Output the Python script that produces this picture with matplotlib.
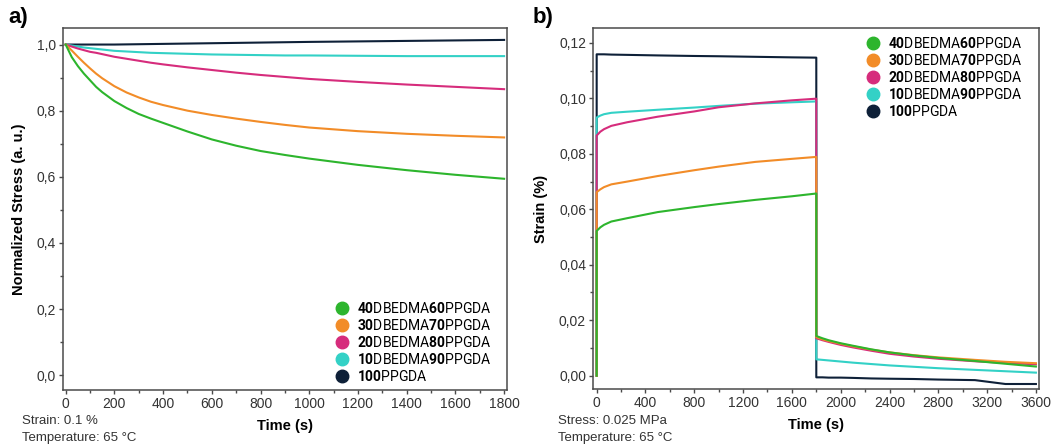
import matplotlib
matplotlib.use('Agg')
import matplotlib.pyplot as plt
from matplotlib.ticker import MultipleLocator, FuncFormatter

plt.rcParams['font.family'] = ['Liberation Sans', 'DejaVu Sans']
plt.rcParams['mathtext.fontset'] = 'custom'
plt.rcParams['mathtext.rm'] = 'Roboto'
plt.rcParams['mathtext.bf'] = 'Roboto:bold'

labels = ['$\\mathbf{40}$DBEDMA$\\mathbf{60}$PPGDA',
          '$\\mathbf{30}$DBEDMA$\\mathbf{70}$PPGDA',
          '$\\mathbf{20}$DBEDMA$\\mathbf{80}$PPGDA',
          '$\\mathbf{10}$DBEDMA$\\mathbf{90}$PPGDA',
          '$\\mathbf{100}$PPGDA']
colors = ['#2db52d', '#f28c28', '#d62c7c', '#33d1c6', '#0e2038']

# a) stress relaxation, normalized stress
t_relax = [0, 25, 50, 75, 100, 125, 150, 200, 250, 300, 350, 400, 500, 600, 700,
           800, 900, 1000, 1200, 1400, 1600, 1800]
relax_40 = [1.0, 0.962, 0.935, 0.912, 0.892, 0.872, 0.856, 0.829, 0.808, 0.790, 0.776,
            0.763, 0.737, 0.713, 0.694, 0.678, 0.666, 0.655, 0.636, 0.620, 0.606, 0.594]
relax_30 = [1.0, 0.982, 0.963, 0.945, 0.928, 0.912, 0.898, 0.874, 0.855, 0.840, 0.827,
            0.817, 0.800, 0.787, 0.776, 0.766, 0.757, 0.749, 0.738, 0.730, 0.724, 0.719]
relax_20 = [1.0, 0.994, 0.988, 0.983, 0.978, 0.975, 0.971, 0.963, 0.957, 0.951, 0.945,
            0.940, 0.931, 0.923, 0.915, 0.908, 0.902, 0.896, 0.887, 0.879, 0.872, 0.865]
relax_10 = [1.0, 0.997, 0.994, 0.991, 0.989, 0.987, 0.985, 0.981, 0.979, 0.977, 0.975,
            0.974, 0.972, 0.970, 0.969, 0.968, 0.967, 0.967, 0.966, 0.965, 0.965, 0.965]
relax_0 = [1.0, 1.0, 1.0, 1.0, 1.0, 1.0, 1.0, 1.0, 1.0005, 1.001, 1.0015,
           1.002, 1.003, 1.004, 1.005, 1.006, 1.007, 1.008, 1.0095, 1.011, 1.0125, 1.014]

# b) creep and recovery, strain (%)
t_creep = [0, 0, 30, 60, 120, 250, 500, 800, 1000, 1300, 1600, 1800,
           1800, 1850, 1900, 2000, 2100, 2250, 2400, 2600, 2800, 3100, 3350, 3600]
creep_40 = [0.0, 0.0522, 0.0535, 0.0544, 0.0556, 0.0568, 0.0590, 0.0608, 0.0619, 0.0634, 0.0647, 0.0657,
            0.0143, 0.0135, 0.0128, 0.0117, 0.0108, 0.0095, 0.0084, 0.0073, 0.0064, 0.0053, 0.0043, 0.0033]
creep_30 = [0.0, 0.0662, 0.0672, 0.0680, 0.0690, 0.0700, 0.0720, 0.0741, 0.0754, 0.0771, 0.0782, 0.0789,
            0.0139, 0.0131, 0.0125, 0.0115, 0.0106, 0.0094, 0.0084, 0.0074, 0.0066, 0.0057, 0.0050, 0.0045]
creep_20 = [0.0, 0.0866, 0.0880, 0.0889, 0.0901, 0.0914, 0.0934, 0.0953, 0.0968, 0.0982, 0.0993, 0.0999,
            0.0135, 0.0128, 0.0122, 0.0111, 0.0102, 0.0090, 0.0079, 0.0069, 0.0061, 0.0052, 0.0046, 0.0041]
creep_10 = [0.0, 0.0931, 0.0938, 0.0943, 0.0948, 0.0952, 0.0959, 0.0967, 0.0973, 0.0981, 0.0986, 0.0989,
            0.0059, 0.0057, 0.0055, 0.0051, 0.0047, 0.0042, 0.0037, 0.0032, 0.0027, 0.0021, 0.0016, 0.0011]
creep_0 = [0.0, 0.1159, 0.1159, 0.1159, 0.1158, 0.1157, 0.1155, 0.1153, 0.1152, 0.1150, 0.1148, 0.1147,
           -0.0006, -0.0006, -0.0007, -0.0007, -0.0008, -0.0010, -0.0011, -0.0012, -0.0014, -0.0016,
           -0.0030, -0.0030]

relax = [relax_40, relax_30, relax_20, relax_10, relax_0]
creep = [creep_40, creep_30, creep_20, creep_10, creep_0]

fig = plt.figure(figsize=(10.55, 4.44), dpi=100)
ax1 = fig.add_axes([0.0597, 0.1216, 0.4209, 0.8153])
ax2 = fig.add_axes([0.5621, 0.1239, 0.4227, 0.8131])


def comma(fmt):
    return FuncFormatter(lambda v, p: (fmt % v).replace('.', ','))


def style(ax):
    for s in ax.spines.values():
        s.set_color('#4a4a4a')
        s.set_linewidth(1.1)
    ax.tick_params(which='major', direction='out', length=3, width=1, color='#4a4a4a',
                   labelsize=10, labelcolor='#333333', pad=2)
    ax.tick_params(which='minor', direction='out', length=2, width=1, color='#4a4a4a')


# draw in reverse so the green line sits on top
for i in range(4, -1, -1):
    ax1.plot(t_relax, relax[i], color=colors[i], lw=1.5)
    ax2.plot(t_creep, creep[i], color=colors[i], lw=1.5)

for i in range(5):
    ax1.plot([], [], 'o', color=colors[i], ms=9, label=labels[i])
    ax2.plot([], [], 'o', color=colors[i], ms=9, label=labels[i])

ax1.set_xlim(-11, 1812)
ax1.set_ylim(-0.045, 1.05)
ax1.xaxis.set_major_locator(MultipleLocator(200))
ax1.xaxis.set_minor_locator(MultipleLocator(100))
ax1.yaxis.set_major_locator(MultipleLocator(0.2))
ax1.yaxis.set_minor_locator(MultipleLocator(0.1))
ax1.yaxis.set_major_formatter(comma('%.1f'))
ax1.set_xlabel('Time (s)', fontsize=10.5, fontweight='bold', labelpad=6)
ax1.set_ylabel('Normalized Stress (a. u.)', fontsize=10.5, fontweight='bold', labelpad=8)
style(ax1)

ax2.set_xlim(-30, 3625)
ax2.set_ylim(-0.0048, 0.1254)
ax2.xaxis.set_major_locator(MultipleLocator(400))
ax2.xaxis.set_minor_locator(MultipleLocator(200))
ax2.yaxis.set_major_locator(MultipleLocator(0.02))
ax2.yaxis.set_minor_locator(MultipleLocator(0.01))
ax2.yaxis.set_major_formatter(comma('%.2f'))
ax2.set_xlabel('Time (s)', fontsize=10.5, fontweight='bold', labelpad=6)
ax2.set_ylabel('Strain (%)', fontsize=10.5, fontweight='bold', labelpad=8)
style(ax2)

leg_kw = dict(frameon=False, borderpad=0, borderaxespad=0, handlelength=1.0,
              handletextpad=0.6, labelspacing=0.15, prop={'family': 'Roboto', 'size': 10})
ax1.legend(loc='upper left', bbox_to_anchor=(0.6126, 0.2467), **leg_kw)
ax2.legend(loc='upper left', bbox_to_anchor=(0.612, 0.9787), **leg_kw)

fig.text(0.008, 0.985, 'a)', fontsize=16, fontweight='bold', va='top')
fig.text(0.505, 0.985, 'b)', fontsize=16, fontweight='bold', va='top')

fig.text(22 / 1055, 1 - 421 / 444, 'Strain: 0.1 %', fontsize=9.5, va='center', color='#333333')
fig.text(22 / 1055, 1 - 438 / 444, 'Temperature: 65 °C', fontsize=9.5, va='center', color='#333333')
fig.text(558 / 1055, 1 - 421 / 444, 'Stress: 0.025 MPa', fontsize=9.5, va='center', color='#333333')
fig.text(558 / 1055, 1 - 438 / 444, 'Temperature: 65 °C', fontsize=9.5, va='center', color='#333333')

fig.savefig('out.png', dpi=100)
